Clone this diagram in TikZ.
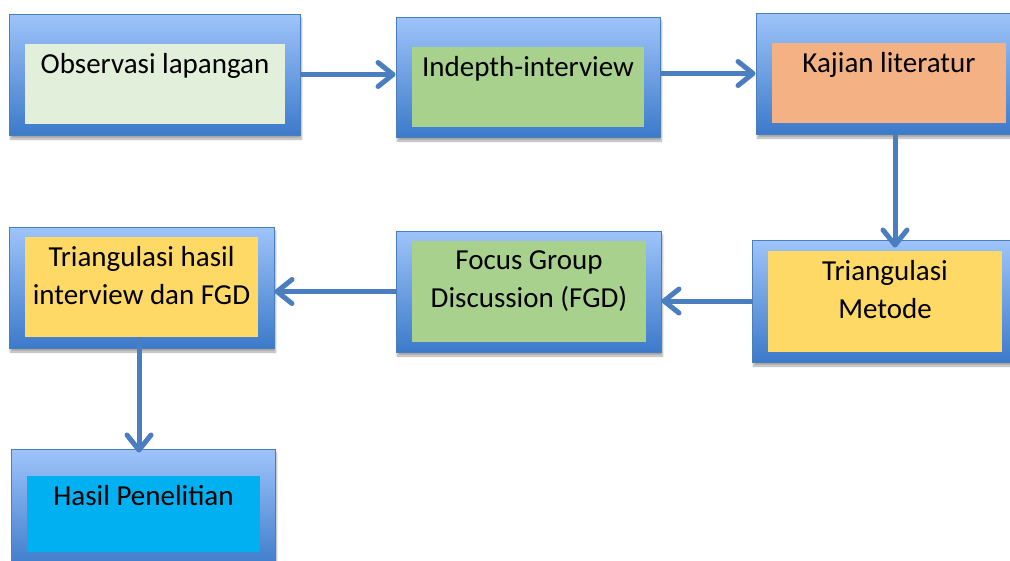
\documentclass[tikz,border=0pt]{standalone}
\usepackage{fontspec}
\setmainfont{Carlito}
\usetikzlibrary{arrows.meta,shadows.blur}
\definecolor{bdr}{RGB}{74,126,187}
\definecolor{gtop}{RGB}{158,196,250}
\definecolor{gbot}{RGB}{60,122,202}
\definecolor{arrc}{RGB}{74,126,190}
\definecolor{cpale}{RGB}{226,239,218}
\definecolor{cgreen}{RGB}{169,209,142}
\definecolor{corange}{RGB}{244,177,131}
\definecolor{cyellow}{RGB}{255,217,102}
\definecolor{ccyan}{RGB}{0,176,240}
\begin{document}
\begin{tikzpicture}[x=1pt,y=-1pt,
  outerbox/.style={draw=bdr, line width=1pt, top color=gtop, bottom color=gbot, inner sep=0pt,
    blur shadow={shadow xshift=1.5pt, shadow yshift=-4pt, shadow blur steps=8, shadow opacity=35}},
  innerbox/.style={inner sep=0pt, draw=none},
  boxtext/.style={anchor=north, align=center, inner sep=0pt, font=\fontsize{29pt}{38pt}\selectfont, text=black},
  flow/.style={draw=arrc, line width=5pt, -{Straight Barb[length=15pt,width=24pt,line cap=round,line join=round]}}
]
\path[use as bounding box] (0,0) rectangle (1010,560);
\clip (0,0) rectangle (1010,560);

% row 1
\node[outerbox, minimum width=291pt, minimum height=121pt] (o1) at (154.5,74.5) {};
\node[innerbox, fill=cpale, minimum width=260pt, minimum height=80pt] (i1) at (155,84) {};
\node[boxtext] (t1) at ([yshift=-9.5pt]i1.north) {Observasi lapangan};

\node[outerbox, minimum width=264pt, minimum height=120pt] (o2) at (528,77) {};
\node[innerbox, fill=cgreen, minimum width=232pt, minimum height=80pt] (i2) at (528,87) {};
\node[boxtext] (t2) at ([yshift=-9.5pt]i2.north) {Indepth-interview};

\node[outerbox, minimum width=266pt, minimum height=121pt] (o3) at (889,73.5) {};
\node[innerbox, fill=corange, minimum width=234pt, minimum height=80pt] (i3) at (889,83) {};
\node[boxtext] (t3) at ([yshift=-9.5pt]i3.north) {Kajian literatur};

% row 2
\node[outerbox, minimum width=266pt, minimum height=122pt] (o4) at (885,301) {};
\node[innerbox, fill=cyellow, minimum width=234pt, minimum height=101pt] (i4) at (885,301.5) {};
\node[boxtext] (t4) at ([yshift=-9.5pt]i4.north) {Triangulasi\\Metode};

\node[outerbox, minimum width=265pt, minimum height=121pt] (o5) at (528.5,291.5) {};
\node[innerbox, fill=cgreen, minimum width=234pt, minimum height=101pt] (i5) at (529,291.5) {};
\node[boxtext] (t5) at ([yshift=-9.5pt]i5.north) {Focus Group\\Discussion (FGD)};

\node[outerbox, minimum width=265pt, minimum height=121pt] (o6) at (141.5,287.5) {};
\node[innerbox, fill=cyellow, minimum width=233pt, minimum height=100pt] (i6) at (141.5,287) {};
\node[boxtext] (t6) at ([yshift=-9.5pt]i6.north) {Triangulasi hasil\\interview dan FGD};

% row 3
\node[outerbox, minimum width=264pt, minimum height=121pt] (o7) at (143,509.5) {};
\node[innerbox, fill=ccyan, minimum width=233pt, minimum height=76pt] (i7) at (143.5,514) {};
\node[boxtext] (t7) at ([yshift=-9.5pt]i7.north) {Hasil Penelitian};

% connectors
\draw[flow] (o1.east) -- (o1.east -| o2.west);
\draw[flow] (o3.west -| o2.east) -- (o3.west);
\draw[flow] ([xshift=6pt]o3.south) -- ([xshift=10pt,yshift=-8pt]o4.north);
\draw[flow] (o4.west) -- (o4.west -| o5.east);
\draw[flow] (o5.west) -- (o5.west -| o6.east);
\draw[flow] ([xshift=-2.5pt]i6.south) -- ([xshift=-4pt,yshift=-4pt]o7.north);
\end{tikzpicture}
\end{document}
